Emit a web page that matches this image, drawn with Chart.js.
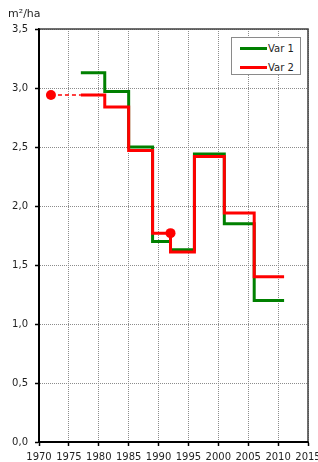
<!DOCTYPE html>
<html>
<head>
<meta charset="utf-8">
<script src="https://cdn.jsdelivr.net/npm/chart.js@4/dist/chart.umd.min.js"></script>
<style>
  body { margin: 0; background: #fff; }
  #wrap { position: relative; width: 318px; height: 462px; }
  #legend { position: absolute; left: 231px; top: 37px; width: 70px; height: 38px;
    border: 1px solid #8a8a8a; background: #fff; font: 10px "DejaVu Sans", sans-serif; color: #1f1f1f; box-sizing: border-box; }
  #legend .row { position: absolute; left: 8px; height: 12px; display: flex; align-items: center; }
  #legend .sw { width: 27px; height: 3px; margin-right: 1px; }
</style>
</head>
<body>
<div id="wrap">
  <canvas id="chart" width="318" height="462"></canvas>
  <div id="legend">
    <div class="row" style="top:4px"><span class="sw" style="background:#008000"></span>Var 1</div>
    <div class="row" style="top:23px"><span class="sw" style="background:#ff0000"></span>Var 2</div>
  </div>
</div>
<script>
// step series, value holds until next year
const years = [1977, 1981, 1985, 1989, 1992, 1996, 2001, 2006, 2011];
const var1 = [3.13, 2.97, 2.50, 1.70, 1.63, 2.44, 1.85, 1.20, 1.20];
const var2 = [2.94, 2.84, 2.47, 1.77, 1.61, 2.42, 1.94, 1.40, 1.40];
// dashed extension of Var 2 back to the first measurement
const extYears = [1972, 1977];
const extVals = [2.94, 2.94];
// single measurements (dots)
const dotYears = [1972, 1992];
const dotVals = [2.94, 1.77];

const xTicks = [1970, 2015, 5];
const yTicks = [0, 3.5, 0.5];
const unitLabel = 'm²/ha';

const pts = (xs, ys) => xs.map((x, i) => ({ x: x, y: ys[i] }));
const textColor = '#1f1f1f';
const gridColor = '#8c8c8c';

const framePlugin = {
  id: 'frame',
  beforeDatasetsDraw(chart) {
    const a = chart.chartArea, ctx = chart.ctx;
    ctx.save();
    ctx.setLineDash([]);
    ctx.strokeStyle = '#404040';
    ctx.lineWidth = 1.5;
    ctx.beginPath();
    ctx.moveTo(a.left, a.top);
    ctx.lineTo(a.right, a.top);
    ctx.lineTo(a.right, a.bottom);
    ctx.stroke();
    // axis lines, solid
    ctx.strokeStyle = '#000';
    ctx.lineWidth = 2;
    ctx.beginPath();
    ctx.moveTo(a.left, a.top);
    ctx.lineTo(a.left, a.bottom);
    ctx.lineTo(a.right, a.bottom);
    ctx.stroke();
    ctx.restore();
  },
  afterDraw(chart) {
    const ctx = chart.ctx;
    ctx.save();
    ctx.fillStyle = textColor;
    ctx.font = '11px "DejaVu Sans", sans-serif';
    ctx.textBaseline = 'alphabetic';
    ctx.fillText(unitLabel, 8, 17);
    ctx.restore();
  }
};

new Chart(document.getElementById('chart'), {
  type: 'line',
  data: {
    datasets: [
      { label: 'Var 1', data: pts(years, var1), borderColor: '#008000', borderWidth: 3,
        stepped: true, pointRadius: 0, fill: false, order: 3 },
      { label: 'Var 2', data: pts(years, var2), borderColor: '#ff0000', borderWidth: 3,
        stepped: true, pointRadius: 0, fill: false, order: 2 },
      { label: 'ext', data: pts(extYears, extVals), borderColor: '#ff0000', borderWidth: 1.5,
        borderDash: [4, 3], pointRadius: 0, fill: false, order: 1 },
      { label: 'dots', data: pts(dotYears, dotVals), showLine: false, pointRadius: 5,
        pointBackgroundColor: '#ff0000', pointBorderColor: '#ff0000', pointBorderWidth: 0, order: 0 }
    ]
  },
  options: {
    responsive: false,
    animation: false,
    layout: { padding: { top: 29, right: 10, left: 0, bottom: 0 } },
    plugins: { legend: { display: false }, tooltip: { enabled: false } },
    scales: {
      x: {
        type: 'linear', min: xTicks[0], max: xTicks[1],
        ticks: { stepSize: xTicks[2], color: textColor, font: { family: 'DejaVu Sans', size: 10 },
          padding: 5, maxRotation: 0, autoSkip: false, callback: v => String(v) },
        grid: { color: gridColor, tickLength: 4, tickColor: '#000', tickBorderDash: [], tickWidth: 1.5 },
        border: { color: '#000', width: 2, dash: [1, 1] },
        afterFit: s => { s.height = 20; s.paddingLeft = 0; s.paddingRight = 0; }
      },
      y: {
        min: yTicks[0], max: yTicks[1],
        ticks: { stepSize: yTicks[2], color: textColor, font: { family: 'DejaVu Sans', size: 10 },
          padding: 7, callback: v => v.toFixed(1).replace('.', ',') },
        grid: { color: gridColor, tickLength: 4, tickColor: '#000', tickBorderDash: [], tickWidth: 1.5 },
        border: { color: '#000', width: 2, dash: [1, 1] },
        afterFit: s => { s.width = 39; s.paddingTop = 0; s.paddingBottom = 0; }
      }
    }
  },
  plugins: [framePlugin]
});
</script>
</body>
</html>
